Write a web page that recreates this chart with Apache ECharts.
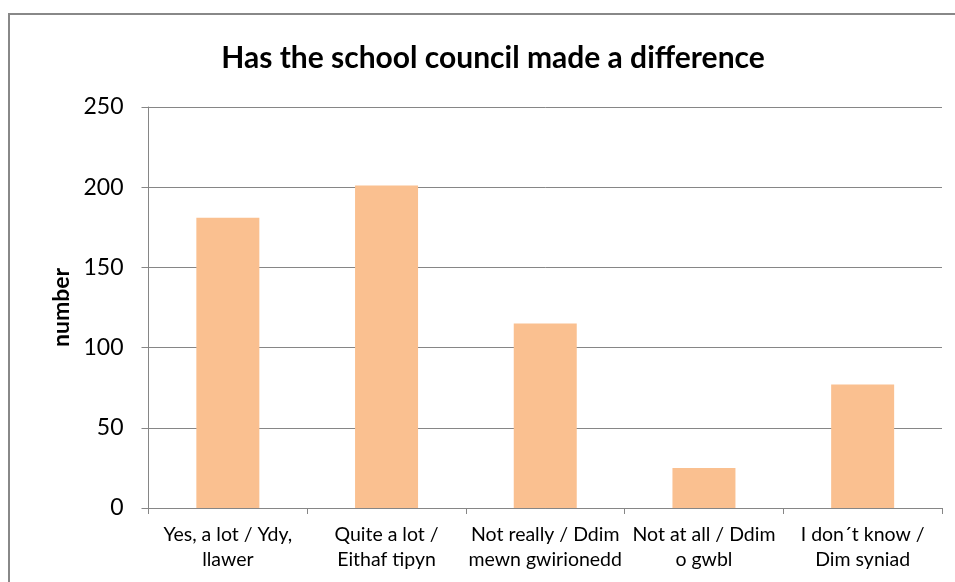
<!DOCTYPE html>
<html>
<head>
<meta charset="utf-8">
<script src="https://cdn.jsdelivr.net/npm/echarts@6/dist/echarts.min.js"></script>
<style>
  html, body { margin: 0; padding: 0; background: #fff; }
  #chart { width: 955px; height: 582px; }
</style>
</head>
<body>
<div id="chart"></div>
<script>
// Survey responses: has the school council made a difference
const categories = [
  'Yes, a lot / Ydy,\nllawer',
  'Quite a lot /\nEithaf tipyn',
  'Not really / Ddim\nmewn gwirionedd',
  'Not at all / Ddim\no gwbl',
  'I don\u00B4t know /\nDim syniad'
];
const counts = [181, 201, 115, 25, 77];
const yTicks = { min: 0, max: 250, interval: 50 };

const FONT = 'Lato, "Open Sans", sans-serif';
const AXIS_GREY = '#868686';

const chart = echarts.init(document.getElementById('chart'), null, { renderer: 'canvas' });
chart.setOption({
  backgroundColor: '#ffffff',
  animation: false,
  title: {
    text: 'Has the school council made a difference',
    left: 488,
    top: 38,
    textAlign: 'center',
    textStyle: { fontFamily: FONT, fontSize: 30, fontWeight: 'bold', color: '#000' }
  },
  graphic: [{
    type: 'rect',
    shape: { x: 9, y: 14, width: 1200, height: 1000 },
    style: { fill: 'none', stroke: '#888888', lineWidth: 2 },
    silent: true
  }],
  grid: { left: 148.5, right: 13, top: 107, bottom: 74, containLabel: false },
  xAxis: {
    type: 'category',
    data: categories,
    axisLine: { lineStyle: { color: AXIS_GREY, width: 1 } },
    axisTick: { show: true, length: 6, lineStyle: { color: AXIS_GREY } },
    axisLabel: {
      interval: 0,
      margin: 14,
      fontFamily: FONT,
      fontSize: 19.5,
      lineHeight: 25,
      color: '#000'
    }
  },
  yAxis: {
    type: 'value',
    min: yTicks.min,
    max: yTicks.max,
    interval: yTicks.interval,
    name: 'number',
    nameLocation: 'middle',
    nameGap: 74,
    nameTextStyle: { fontFamily: FONT, fontSize: 23, fontWeight: 'bold', color: '#000' },
    axisLine: { show: true, lineStyle: { color: AXIS_GREY, width: 1 } },
    axisTick: { show: true, length: 7, lineStyle: { color: AXIS_GREY } },
    axisLabel: { margin: 25, fontFamily: FONT, fontSize: 23, color: '#000' },
    splitLine: { show: true, lineStyle: { color: AXIS_GREY, width: 1 } }
  },
  series: [{
    type: 'bar',
    data: counts,
    barWidth: 63,
    itemStyle: { color: '#FAC090' }
  }]
});
</script>
</body>
</html>
